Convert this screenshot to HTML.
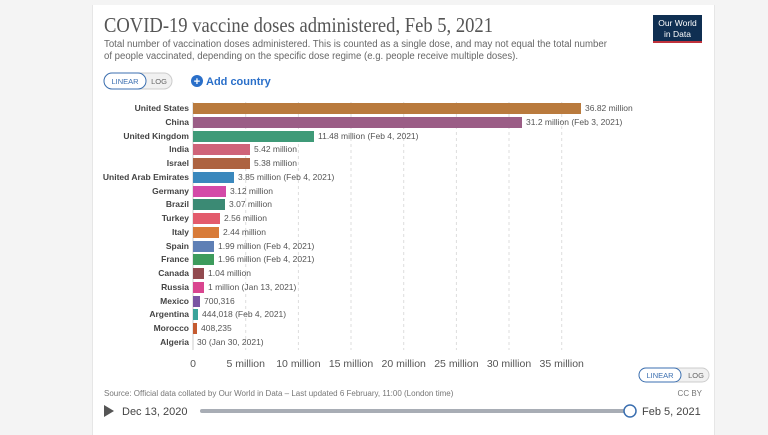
<!DOCTYPE html>
<html><head><meta charset="utf-8"><style>
body{margin:0;width:768px;height:427px;background:#f4f4f4;overflow:hidden;font-family:"Liberation Sans",sans-serif}
.card{position:absolute;left:92px;top:5px;width:621px;height:430px;background:#fff;border-left:1px solid #e6e6e6;border-right:1px solid #e6e6e6}
</style></head><body>
<div class="card"></div>
<svg width="768" height="427" style="position:absolute;left:0;top:0" font-family="Liberation Sans, sans-serif">
<text x="104" y="32" font-family="Liberation Serif, serif" font-size="21" fill="#555" textLength="389" lengthAdjust="spacingAndGlyphs">COVID-19 vaccine doses administered, Feb 5, 2021</text>
<text x="104" y="47" font-size="10" fill="#666" textLength="503" lengthAdjust="spacingAndGlyphs">Total number of vaccination doses administered. This is counted as a single dose, and may not equal the total number</text>
<text x="104" y="59" font-size="10" fill="#666" textLength="414" lengthAdjust="spacingAndGlyphs">of people vaccinated, depending on the specific dose regime (e.g. people receive multiple doses).</text>
<rect x="653" y="15" width="49" height="28" fill="#0f2f52"/><rect x="653" y="41" width="49" height="2" fill="#c0323c"/>
<text x="677.5" y="26" font-size="8.5" fill="#fff" text-anchor="middle">Our World</text>
<text x="677.5" y="37" font-size="8.5" fill="#fff" text-anchor="middle">in Data</text>
<rect x="104" y="73" width="68" height="16" rx="8" fill="#f1f1f1" stroke="#ccc"/>
<rect x="104" y="73" width="42" height="16" rx="8" fill="#fff" stroke="#3b6fb0"/>
<text x="125" y="84" font-size="7.5" fill="#3b6fb0" text-anchor="middle">LINEAR</text>
<text x="159" y="84" font-size="7.5" fill="#666" text-anchor="middle">LOG</text>
<circle cx="197" cy="81" r="6" fill="#2a6fc9"/><text x="197" y="85" font-size="11" fill="#fff" text-anchor="middle" font-weight="bold">+</text>
<text x="206" y="85" font-size="11" fill="#2a6fc9" font-weight="bold">Add country</text>
<g stroke="#ddd" stroke-dasharray="3,3">
<line x1="245.7" y1="102" x2="245.7" y2="350"/><line x1="298.4" y1="102" x2="298.4" y2="350"/><line x1="351" y1="102" x2="351" y2="350"/><line x1="403.7" y1="102" x2="403.7" y2="350"/><line x1="456.4" y1="102" x2="456.4" y2="350"/><line x1="509" y1="102" x2="509" y2="350"/><line x1="561.7" y1="102" x2="561.7" y2="350"/>
</g>
<line x1="193" y1="102" x2="193" y2="350" stroke="#ccc"/>
<g font-size="10.5" fill="#555" text-anchor="middle">
<text x="193" y="367">0</text><text x="245.7" y="367">5 million</text><text x="298.4" y="367">10 million</text><text x="351" y="367">15 million</text><text x="403.7" y="367">20 million</text><text x="456.4" y="367">25 million</text><text x="509" y="367">30 million</text><text x="561.7" y="367">35 million</text>
</g>
<g font-size="8.5">
<g font-weight="bold" fill="#444" text-anchor="end">
<text x="189" y="111">United States</text><text x="189" y="125">China</text><text x="189" y="139">United Kingdom</text><text x="189" y="152">India</text><text x="189" y="166">Israel</text><text x="189" y="180">United Arab Emirates</text><text x="189" y="194">Germany</text><text x="189" y="207">Brazil</text><text x="189" y="221">Turkey</text><text x="189" y="235">Italy</text><text x="189" y="249">Spain</text><text x="189" y="262">France</text><text x="189" y="276">Canada</text><text x="189" y="290">Russia</text><text x="189" y="304">Mexico</text><text x="189" y="317">Argentina</text><text x="189" y="331">Morocco</text><text x="189" y="345">Algeria</text>
</g>
<rect x="193" y="103" width="388" height="11" fill="#b97a3d"/>
<rect x="193" y="117" width="329" height="11" fill="#9b5d86"/>
<rect x="193" y="131" width="121" height="11" fill="#3f9a78"/>
<rect x="193" y="144" width="57" height="11" fill="#cf6479"/>
<rect x="193" y="158" width="57" height="11" fill="#ad6341"/>
<rect x="193" y="172" width="41" height="11" fill="#3a88bd"/>
<rect x="193" y="186" width="33" height="11" fill="#d44aa8"/>
<rect x="193" y="199" width="32" height="11" fill="#3b8a74"/>
<rect x="193" y="213" width="27" height="11" fill="#e35b6c"/>
<rect x="193" y="227" width="26" height="11" fill="#d87b39"/>
<rect x="193" y="241" width="21" height="11" fill="#5e7fb5"/>
<rect x="193" y="254" width="21" height="11" fill="#3d9b5c"/>
<rect x="193" y="268" width="11" height="11" fill="#924a4f"/>
<rect x="193" y="282" width="11" height="11" fill="#d9458f"/>
<rect x="193" y="296" width="7" height="11" fill="#7a55a3"/>
<rect x="193" y="309" width="5" height="11" fill="#3aa39a"/>
<rect x="193" y="323" width="4" height="11" fill="#c45a2f"/>
<g fill="#555">
<text x="585" y="111">36.82 million</text><text x="526" y="125">31.2 million (Feb 3, 2021)</text><text x="318" y="139">11.48 million (Feb 4, 2021)</text><text x="254" y="152">5.42 million</text><text x="254" y="166">5.38 million</text><text x="238" y="180">3.85 million (Feb 4, 2021)</text><text x="230" y="194">3.12 million</text><text x="229" y="207">3.07 million</text><text x="224" y="221">2.56 million</text><text x="223" y="235">2.44 million</text><text x="218" y="249">1.99 million (Feb 4, 2021)</text><text x="218" y="262">1.96 million (Feb 4, 2021)</text><text x="208" y="276">1.04 million</text><text x="208" y="290">1 million (Jan 13, 2021)</text><text x="204" y="304">700,316</text><text x="202" y="317">444,018 (Feb 4, 2021)</text><text x="201" y="331">408,235</text><text x="197" y="345">30 (Jan 30, 2021)</text>
</g></g>
<rect x="639" y="368" width="70" height="14" rx="7" fill="#f1f1f1" stroke="#ccc"/>
<rect x="639" y="368" width="42" height="14" rx="7" fill="#fff" stroke="#3b6fb0"/>
<text x="660" y="378" font-size="7.5" fill="#3b6fb0" text-anchor="middle">LINEAR</text>
<text x="696" y="378" font-size="7.5" fill="#666" text-anchor="middle">LOG</text>
<text x="104" y="396" font-size="8" fill="#777">Source: Official data collated by Our World in Data – Last updated 6 February, 11:00 (London time)</text>
<text x="702" y="396" font-size="8" fill="#777" text-anchor="end">CC BY</text>
<polygon points="104,405 104,417 114,411" fill="#555"/>
<text x="122" y="415" font-size="11" fill="#444">Dec 13, 2020</text>
<rect x="200" y="409" width="430" height="4" rx="2" fill="#a8adb5"/>
<circle cx="630" cy="411" r="6" fill="#fff" stroke="#3b6fb0" stroke-width="1.5"/>
<text x="642" y="415" font-size="11" fill="#444">Feb 5, 2021</text>
</svg>
</body></html>
